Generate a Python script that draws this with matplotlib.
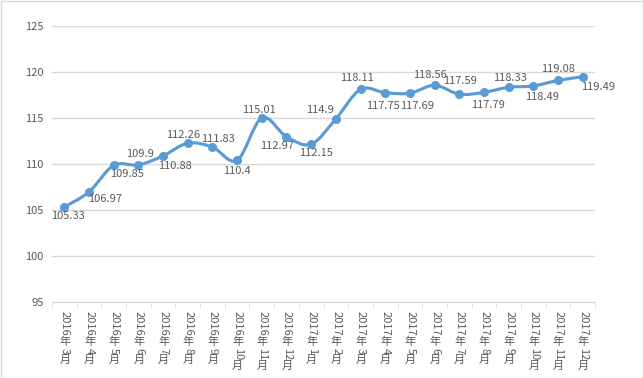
import re
import numpy as np
import matplotlib
matplotlib.use("Agg")
import matplotlib.pyplot as plt
from matplotlib.path import Path
from matplotlib.patches import PathPatch, Rectangle
from matplotlib.font_manager import FontProperties

plt.rcParams['font.family'] = ['Noto Sans CJK SC', 'DejaVu Sans']

months = ["2016年3月", "2016年4月", "2016年5月", "2016年6月", "2016年7月", "2016年8月",
          "2016年9月", "2016年10月", "2016年11月", "2016年12月", "2017年1月", "2017年2月",
          "2017年3月", "2017年4月", "2017年5月", "2017年6月", "2017年7月", "2017年8月",
          "2017年9月", "2017年10月", "2017年11月", "2017年12月"]
values = [105.33, 106.97, 109.85, 109.9, 110.88, 112.26, 111.83, 110.4, 115.01, 112.97,
          112.15, 114.9, 118.11, 117.75, 117.69, 118.56, 117.59, 117.79, 118.33, 118.49,
          119.08, 119.49]
yticks = [95, 100, 105, 110, 115, 120, 125]

# where each data label sits relative to its point (pixels, +y is up)
label_offsets = [(4, -9), (16, -7), (13, -9), (2, 11), (12, -10), (-5, 8), (6, 8), (0, -11),
                 (-3, 8), (-9, -9), (5, -9), (-16, 9), (-4, 11), (-2, -13), (7, -13), (-5, 10),
                 (1, 13), (4, -13), (1, 9), (9, -11), (0, 11), (15, -10)]

line_color = "#5B9BD5"
text_color = "#595959"
grid_color = "#D9D9D9"

fig = plt.figure(figsize=(6.43, 3.78), dpi=100)
ax = fig.add_axes([52 / 643, 1 - 302 / 378, 543 / 643, 276 / 378])

x = np.arange(len(values))
y = np.array(values)

# smooth line like excel (catmull-rom -> bezier)
verts = [(x[0], y[0])]
codes = [Path.MOVETO]
t = 1 / 6
n = len(x)
for i in range(n - 1):
    p0 = np.array([x[max(i - 1, 0)], y[max(i - 1, 0)]])
    p1 = np.array([x[i], y[i]])
    p2 = np.array([x[i + 1], y[i + 1]])
    p3 = np.array([x[min(i + 2, n - 1)], y[min(i + 2, n - 1)]])
    verts += [tuple(p1 + (p2 - p0) * t), tuple(p2 - (p3 - p1) * t), tuple(p2)]
    codes += [Path.CURVE4] * 3
ax.add_patch(PathPatch(Path(verts, codes), fill=False, ec=line_color, lw=2.25,
                       capstyle="round", joinstyle="round", zorder=3))
ax.plot(x, y, "o", color=line_color, ms=5.5, zorder=4)

for xi, yi, (dx, dy) in zip(x, y, label_offsets):
    ax.annotate(f"{yi:g}", (xi, yi), xytext=(dx, dy), textcoords="offset pixels",
                ha="center", va="center", fontsize=8, color=text_color, zorder=5)

ax.set_xlim(-0.5, n - 0.5)
ax.set_ylim(95, 125)
ax.set_yticks(yticks)
ax.yaxis.grid(True, color=grid_color, lw=1)
ax.set_axisbelow(True)
ax.tick_params(axis="y", length=0, labelsize=8, labelcolor=text_color, pad=6)

ax.set_xticks(x)
ax.set_xticklabels([])
ax.set_xticks(np.arange(n + 1) - 0.5, minor=True)
ax.tick_params(axis="x", which="major", length=0)
ax.tick_params(axis="x", which="minor", length=4, color=grid_color, direction="out")

for side in ["top", "right", "left"]:
    ax.spines[side].set_visible(False)
ax.spines["bottom"].set_color(grid_color)

# vertical category labels: digits turned, CJK characters upright (excel style)
renderer = fig.canvas.get_renderer()
fp = FontProperties(family=['Noto Sans CJK SC', 'DejaVu Sans'], size=8)
for xi, lab in zip(x, months):
    cur = 9
    for seg in re.findall(r"\d+|\D", lab):
        w, h, d = renderer.get_text_width_height_descent(seg, fp, ismath=False)
        step = w + (1 if not seg.isdigit() else 0)
        ax.annotate(seg, (xi, 0), xycoords=ax.get_xaxis_transform(),
                    xytext=(0.5, -(cur + step / 2)), textcoords="offset pixels",
                    ha="center", va="center", rotation=-90 if seg.isdigit() else 0,
                    fontproperties=fp, color=text_color, annotation_clip=False)
        cur += step

fig.patches.append(Rectangle((0.5 / 643, 0.5 / 378), 1 - 1 / 643, 1 - 1 / 378,
                             transform=fig.transFigure, fill=False, ec="#D9D9D9", lw=1))

fig.savefig("out.png", dpi=100)
